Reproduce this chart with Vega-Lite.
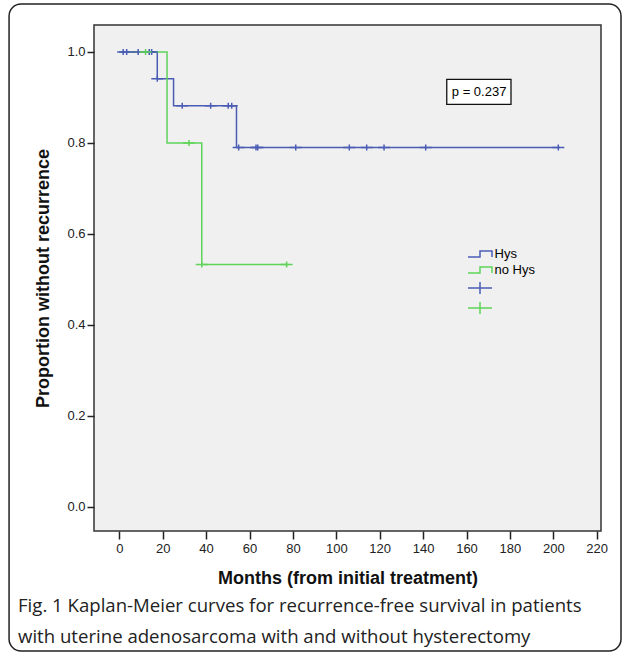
{
  "$schema": "https://vega.github.io/schema/vega-lite/v6.json",
  "width": 507,
  "height": 506,
  "autosize": {"type": "none"},
  "padding": {"left": 94, "top": 25, "right": 26, "bottom": 131},
  "background": "white",
  "config": {
    "view": {"fill": "#f0f0f0", "stroke": "#333333", "strokeWidth": 1.5},
    "font": "Liberation Sans"
  },
  "title": {
    "text": ["Fig. 1 Kaplan-Meier curves for recurrence-free survival in patients", "with uterine adenosarcoma with and without hysterectomy"],
    "orient": "bottom",
    "anchor": "start",
    "frame": "group",
    "dx": -76,
    "offset": -55,
    "font": "Open Sans",
    "fontSize": 18.6,
    "fontWeight": "normal",
    "lineHeight": 31,
    "color": "#222222"
  },
  "datasets": {
    "lines": [
      {"key": "Hys", "t": 0, "s": 1.0},
      {"key": "Hys", "t": 17.5, "s": 0.941},
      {"key": "Hys", "t": 25, "s": 0.882},
      {"key": "Hys", "t": 54, "s": 0.79},
      {"key": "Hys", "t": 203, "s": 0.79},
      {"key": "no Hys", "t": 0, "s": 1.0},
      {"key": "no Hys", "t": 22, "s": 0.8},
      {"key": "no Hys", "t": 38, "s": 0.533},
      {"key": "no Hys", "t": 78, "s": 0.533}
    ],
    "cens": [
      {"key": "Hys censored", "t": 1.8, "s": 1.0},
      {"key": "Hys censored", "t": 3.4, "s": 1.0},
      {"key": "Hys censored", "t": 8.7, "s": 1.0},
      {"key": "Hys censored", "t": 13.8, "s": 1.0},
      {"key": "Hys censored", "t": 14.9, "s": 1.0},
      {"key": "Hys censored", "t": 17.5, "s": 0.941},
      {"key": "Hys censored", "t": 29, "s": 0.882},
      {"key": "Hys censored", "t": 42.1, "s": 0.882},
      {"key": "Hys censored", "t": 50.2, "s": 0.882},
      {"key": "Hys censored", "t": 51.8, "s": 0.882},
      {"key": "Hys censored", "t": 55.0, "s": 0.79},
      {"key": "Hys censored", "t": 63.0, "s": 0.79},
      {"key": "Hys censored", "t": 63.8, "s": 0.79},
      {"key": "Hys censored", "t": 81.3, "s": 0.79},
      {"key": "Hys censored", "t": 106.0, "s": 0.79},
      {"key": "Hys censored", "t": 114.0, "s": 0.79},
      {"key": "Hys censored", "t": 122.0, "s": 0.79},
      {"key": "Hys censored", "t": 141.2, "s": 0.79},
      {"key": "Hys censored", "t": 202.3, "s": 0.79},
      {"key": "no Hys censored", "t": 12.1, "s": 1.0},
      {"key": "no Hys censored", "t": 32.1, "s": 0.8},
      {"key": "no Hys censored", "t": 38.0, "s": 0.533},
      {"key": "no Hys censored", "t": 77.1, "s": 0.533}
    ],
    "annot": [{"label": "p = 0.237"}]
  },
  "layer": [
    {
      "data": {"name": "annot"},
      "mark": {"type": "rect", "fill": null, "fillOpacity": 0, "stroke": "#222222", "strokeWidth": 1.5, "cornerRadius": 12, "clip": false},
      "encoding": {
        "x": {"datum": -50.8, "type": "quantitative", "scale": {"domain": [-11.66, 221.98], "nice": false, "zero": false}},
        "x2": {"datum": 231.2},
        "y": {"datum": 1.1055, "type": "quantitative", "scale": {"domain": [-0.05275, 1.05934], "nice": false, "zero": false}},
        "y2": {"datum": -0.3165}
      }
    },
    {
      "data": {"name": "lines"},
      "mark": {"type": "line", "interpolate": "step-after", "strokeWidth": 1.5},
      "encoding": {
        "x": {
          "field": "t", "type": "quantitative",
          "scale": {"domain": [-11.66, 221.98], "nice": false, "zero": false},
          "axis": {
            "values": [0, 20, 40, 60, 80, 100, 120, 140, 160, 180, 200, 220],
            "title": "Months (from initial treatment)",
            "domain": false, "grid": false,
            "tickSize": 8, "tickColor": "#222222", "tickWidth": 1.5,
            "labelFontSize": 13, "labelColor": "#222222", "labelPadding": 3, "labelFont": "Liberation Sans",
            "titleFontSize": 18, "titleFontWeight": "bold", "titleColor": "#111111", "titlePadding": 14, "titleFont": "Liberation Sans"
          }
        },
        "y": {
          "field": "s", "type": "quantitative",
          "scale": {"domain": [-0.05275, 1.05934], "nice": false, "zero": false},
          "axis": {
            "values": [0, 0.2, 0.4, 0.6, 0.8, 1.0],
            "format": ".1f",
            "title": "Proportion without recurrence",
            "domain": false, "grid": false,
            "tickSize": 7, "tickColor": "#222222", "tickWidth": 1.5,
            "labelFontSize": 13, "labelColor": "#222222", "labelPadding": 2, "labelFont": "Liberation Sans",
            "titleFontSize": 18, "titleFontWeight": "bold", "titleColor": "#111111", "titlePadding": 14, "titleFont": "Liberation Sans"
          }
        },
        "color": {
          "field": "key", "type": "nominal",
          "scale": {"domain": ["Hys", "no Hys", "Hys censored", "no Hys censored"], "range": ["#4b5cb5", "#5fd35a", "#4b5cb5", "#5fd35a"]},
          "legend": {
            "orient": "none", "legendX": 379, "legendY": 222, "title": null, "padding": 0,
            "labelFontSize": 13, "labelFont": "Liberation Sans", "labelColor": "#000000",
            "symbolStrokeWidth": 1.5, "symbolSize": 144, "rowPadding": 2, "labelOffset": 7.5,
            "labelExpr": "indexof(datum.label, 'censored') >= 0 ? '' : datum.label"
          }
        }
      }
    },
    {
      "data": {"name": "cens"},
      "mark": {"type": "point", "filled": false, "strokeWidth": 1.5, "size": 36, "opacity": 1},
      "encoding": {
        "x": {"field": "t", "type": "quantitative"},
        "y": {"field": "s", "type": "quantitative"},
        "color": {"field": "key", "type": "nominal"},
        "shape": {
          "field": "key", "type": "nominal",
          "scale": {"domain": ["Hys", "no Hys", "Hys censored", "no Hys censored"], "range": ["M-2,0.5H0V-0.5H2V0.5", "M-2,0.5H0V-0.5H2V0.5", "M-2,0H2M0,-1V1", "M-2,0H2M0,-1V1"]},
          "legend": {
            "orient": "none", "legendX": 379, "legendY": 222, "title": null, "padding": 0,
            "labelFontSize": 13, "labelFont": "Liberation Sans", "labelColor": "#000000",
            "symbolStrokeWidth": 1.5, "symbolSize": 144, "rowPadding": 2, "labelOffset": 7.5,
            "labelExpr": "indexof(datum.label, 'censored') >= 0 ? '' : datum.label"
          }
        }
      }
    },
    {
      "data": {"name": "annot"},
      "mark": {"type": "rect", "fill": "#ffffff", "stroke": "#111111", "strokeWidth": 1.3},
      "encoding": {
        "x": {"datum": 150.9, "type": "quantitative"},
        "x2": {"datum": 180.5},
        "y": {"datum": 0.940, "type": "quantitative"},
        "y2": {"datum": 0.885}
      }
    },
    {
      "data": {"name": "annot"},
      "mark": {"type": "text", "fontSize": 13, "font": "Liberation Sans", "color": "#000000", "align": "center", "baseline": "middle"},
      "encoding": {
        "x": {"datum": 165.8, "type": "quantitative"},
        "y": {"datum": 0.912, "type": "quantitative"},
        "text": {"field": "label", "type": "nominal"}
      }
    }
  ]
}
